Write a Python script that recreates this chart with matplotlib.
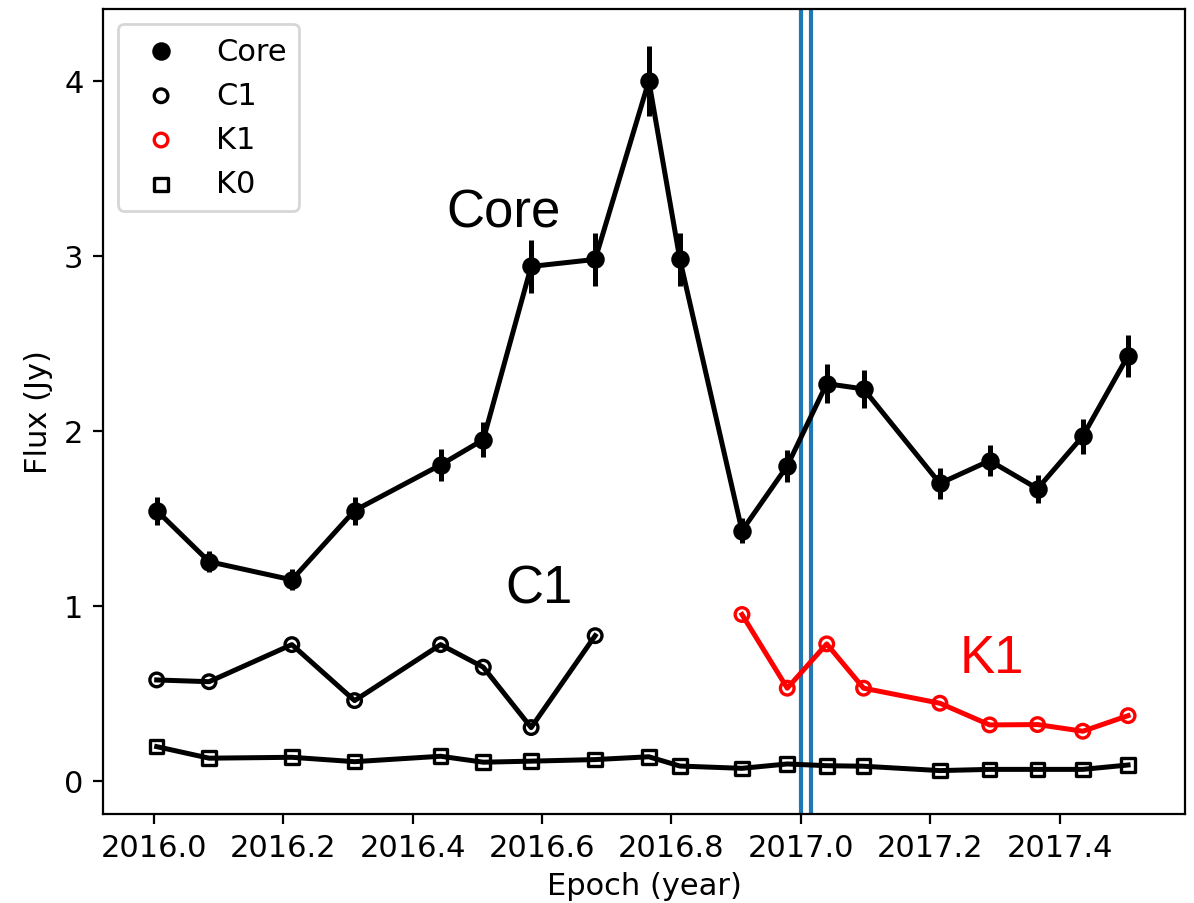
import matplotlib
matplotlib.use("Agg")
import matplotlib.pyplot as plt

# Epochs (decimal year)
epochs = [2016.004, 2016.085, 2016.213, 2016.310, 2016.443, 2016.509, 2016.583,
          2016.682, 2016.765, 2016.813, 2016.909, 2016.979, 2017.040, 2017.097,
          2017.215, 2017.292, 2017.366, 2017.436, 2017.506]

core_flux = [1.545, 1.253, 1.149, 1.545, 1.806, 1.95, 2.94, 2.98, 4.00, 2.98,
             1.43, 1.80, 2.27, 2.24, 1.70, 1.83, 1.67, 1.97, 2.43]
core_err = [0.08, 0.06, 0.06, 0.08, 0.09, 0.10, 0.15, 0.15, 0.20, 0.15,
            0.07, 0.09, 0.11, 0.11, 0.09, 0.09, 0.08, 0.10, 0.12]

c1_epochs = epochs[:8]
c1_flux = [0.577, 0.567, 0.779, 0.459, 0.779, 0.650, 0.305, 0.83]

k1_epochs = epochs[10:]
k1_flux = [0.951, 0.530, 0.783, 0.530, 0.444, 0.320, 0.322, 0.284, 0.373]

k0_flux = [0.196, 0.130, 0.135, 0.110, 0.141, 0.107, 0.113, 0.122, 0.138, 0.085,
           0.072, 0.097, 0.087, 0.084, 0.059, 0.066, 0.066, 0.066, 0.091]

vlines = [2017.0, 2017.016]

labels = ["Core", "C1", "K1", "K0"]
annotations = [("Core", 2016.54, 3.25, "black"),
               ("C1", 2016.595, 1.10, "black"),
               ("K1", 2017.296, 0.70, "red")]

plt.rcParams['font.family'] = ['DejaVu Sans']
fig = plt.figure(figsize=(5.97, 4.52), dpi=200)
ax = fig.add_axes([103/1194, 1 - 815/904, (1185-103)/1194, (815-10)/904])

fs = 11
lw = 1.8
# lines
ax.plot(epochs, core_flux, color='black', lw=lw, zorder=2)
ax.errorbar(epochs, core_flux, yerr=core_err, fmt='none', ecolor='black',
            elinewidth=1.8, capsize=0, zorder=3)
ax.scatter(epochs, core_flux, s=32, c='black', marker='o', zorder=4, label=labels[0])

ax.plot(c1_epochs, c1_flux, color='black', lw=lw, zorder=2)
ax.scatter(c1_epochs, c1_flux, s=24, facecolors='none', edgecolors='black',
           linewidths=1.2, marker='o', zorder=4, label=labels[1])

ax.plot(k1_epochs, k1_flux, color='red', lw=lw, zorder=2)
ax.scatter(k1_epochs, k1_flux, s=24, facecolors='none', edgecolors='red',
           linewidths=1.2, marker='o', zorder=4, label=labels[2])

ax.plot(epochs, k0_flux, color='black', lw=lw, zorder=2)
ax.scatter(epochs, k0_flux, s=24, facecolors='none', edgecolors='black',
           linewidths=1.2, marker='s', zorder=4, label=labels[3])

for v in vlines:
    ax.axvline(v, color='#1f77b4', lw=1.5, zorder=1)

for txt, x, y, c in annotations:
    ax.text(x, y, txt, fontsize=19, color=c, ha='center', va='center',
            family=['Liberation Sans', 'DejaVu Sans'])

ax.set_xlim(2015.921, 2017.594)
ax.set_ylim(-0.189, 4.411)
ax.set_xticks([2016.0, 2016.2, 2016.4, 2016.6, 2016.8, 2017.0, 2017.2, 2017.4])
ax.set_xticklabels(["2016.0", "2016.2", "2016.4", "2016.6", "2016.8",
                    "2017.0", "2017.2", "2017.4"])
ax.set_yticks([0, 1, 2, 3, 4])
ax.tick_params(labelsize=fs)
ax.set_xlabel("Epoch (year)", fontsize=fs, labelpad=3)
ax.set_ylabel("Flux (Jy)", fontsize=fs)
ax.legend(loc='upper left', fontsize=fs, scatterpoints=1)

fig.savefig("out.png", dpi=200)
